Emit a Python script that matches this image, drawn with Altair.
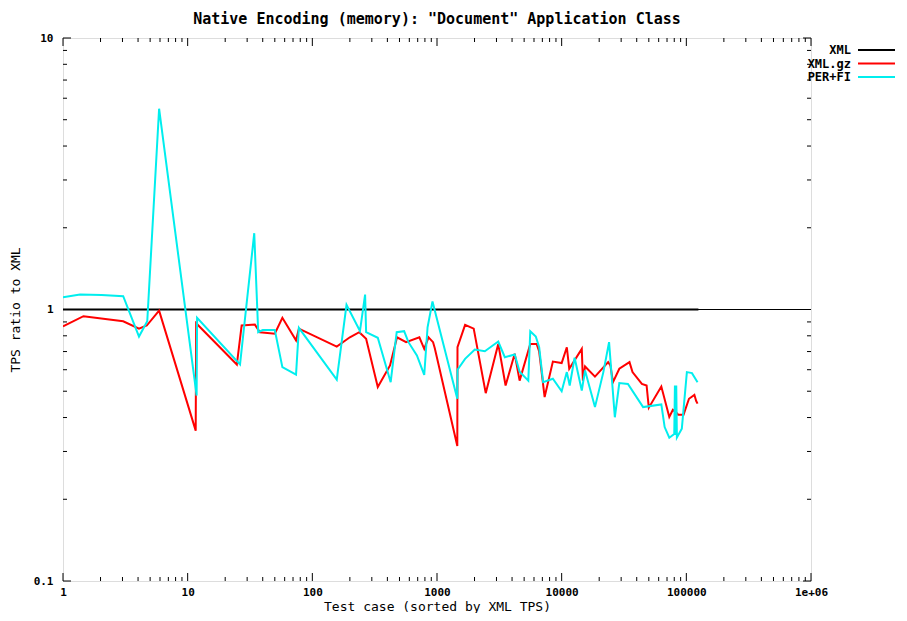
import altair as alt
import pandas as pd

# ---- data ----
xml_x = [1, 125000]
xml_y = [1.0, 1.0]

gz_x = [1, 1.46, 3.04, 4.07, 4.7, 5.9, 11.6, 11.7, 24.8, 27.1, 34.6, 38, 50, 57.5, 74, 78,
        157, 200, 238, 270, 335, 420, 478, 565, 722, 790, 855, 930, 960, 1455, 1460, 1680,
        1970, 2460, 3100, 3550, 4200, 4600, 5600, 6300, 6600, 7300, 8500, 10000, 11000, 11500,
        14500, 14800, 15400, 18500, 23600, 24600, 25800, 29000, 35000, 37000, 44000, 48000,
        50000, 63000, 73000, 78000, 82000, 86000, 95000, 105000, 116000, 120000, 123000]
gz_y = [0.866, 0.945, 0.905, 0.85, 0.873, 0.99, 0.358, 0.89, 0.627, 0.873, 0.88, 0.825, 0.814,
        0.932, 0.77, 0.85, 0.73, 0.79, 0.825, 0.78, 0.518, 0.622, 0.79, 0.758, 0.79, 0.716,
        0.79, 0.758, 0.72, 0.314, 0.726, 0.878, 0.85, 0.492, 0.747, 0.525, 0.687, 0.547, 0.747,
        0.747, 0.7, 0.476, 0.643, 0.635, 0.726, 0.605, 0.716, 0.547, 0.617, 0.566, 0.64, 0.622,
        0.54, 0.605, 0.64, 0.588, 0.532, 0.525, 0.435, 0.52, 0.402, 0.427, 0.42, 0.41, 0.41,
        0.469, 0.485, 0.46, 0.45]

fi_x = [1, 1.37, 2.04, 3.04, 4.07, 4.74, 5.9, 11.8, 11.9, 26.3, 34.2, 36.8, 40, 50, 57.5, 74,
        78, 157, 188, 241, 265, 270, 335, 425, 475, 545, 590, 690, 790, 840, 920, 1455, 1460,
        1680, 2010, 2420, 3100, 3500, 4200, 4600, 5400, 5600, 6200, 6600, 7100, 8500, 10000,
        11000, 11600, 12700, 14500, 15400, 18500, 21600, 24000, 26700, 29000, 34000, 45000,
        63000, 67000, 73000, 80000, 81000, 82000, 83000, 84000, 92000, 101000, 111000, 123000]
fi_y = [1.11, 1.135, 1.13, 1.12, 0.795, 0.905, 5.49, 0.482, 0.932, 0.627, 1.91, 0.825, 0.84,
        0.84, 0.613, 0.576, 0.856, 0.552, 1.04, 0.833, 1.135, 0.825, 0.787, 0.54, 0.825, 0.832,
        0.758, 0.677, 0.574, 0.86, 1.07, 0.469, 0.6, 0.658, 0.712, 0.702, 0.762, 0.667, 0.683,
        0.59, 0.547, 0.832, 0.795, 0.726, 0.54, 0.556, 0.5, 0.588, 0.525, 0.664, 0.503, 0.596,
        0.437, 0.588, 0.758, 0.401, 0.536, 0.532, 0.437, 0.447, 0.369, 0.337, 0.348, 0.525,
        0.345, 0.525, 0.338, 0.364, 0.588, 0.583, 0.54]

series_names = ["XML", "XML.gz", "PER+FI"]
series_colors = ["#000000", "#ff0000", "#00eeee"]

x_major = [1, 10, 100, 1000, 10000, 100000, 1000000]
y_major = [0.1, 1, 10]
x_minor = [m * d for d in [1, 10, 100, 1000, 10000, 100000] for m in range(2, 10)]
y_minor = [m * d for d in [0.1, 1] for m in range(2, 10)]

# ---- build tables ----
rows = []
for name, xs, ys in [("XML", xml_x, xml_y), ("XML.gz", gz_x, gz_y), ("PER+FI", fi_x, fi_y)]:
    for i, (a, b) in enumerate(zip(xs, ys)):
        rows.append({"series": name, "x": a, "y": b, "i": i})
df = pd.DataFrame(rows)

W, H = 748, 543
FONT = "DejaVu Sans Mono"

xscale = alt.Scale(type="log", domain=[1, 1000000])
yscale = alt.Scale(type="log", domain=[0.1, 10])

x_axis = alt.Axis(values=x_major, ticks=False, domain=False, grid=False,
                  labelExpr="datum.value >= 1000000 ? '1e+06' : format(datum.value, '')",
                  labelFont=FONT, labelFontSize=11, labelFontWeight="bold", labelColor="black",
                  labelPadding=5, title="Test case (sorted by XML TPS)", titleFont=FONT,
                  titleFontSize=13, titleFontWeight="normal", titleColor="black",
                  titleX=W / 2, titleY=32, titleBaseline="bottom",
                  labelFlush=False, labelOverlap=False)
y_axis = alt.Axis(values=y_major, ticks=False, domain=False, grid=False,
                  labelExpr="format(datum.value, '')",
                  labelFont=FONT, labelFontSize=11, labelFontWeight="bold", labelColor="black",
                  labelPadding=10, title="TPS ratio to XML", titleFont=FONT, titleFontSize=13,
                  titleFontWeight="normal", titleColor="black",
                  titleX=-48, titleY=H / 2, titleBaseline="middle", titleAngle=270,
                  labelFlush=False, labelOverlap=False)

X = lambda f: alt.X(f, scale=xscale, axis=x_axis)
Y = lambda f: alt.Y(f, scale=yscale, axis=y_axis)

ref = alt.Chart(pd.DataFrame({"y": [1.0]})).mark_rule(color="black", strokeWidth=1).encode(
    y=Y("y:Q"), x=alt.value(0), x2=alt.value(W))

lines = alt.Chart(df).mark_line(strokeWidth=2, clip=True).encode(
    x=X("x:Q"),
    y=Y("y:Q"),
    color=alt.Color("series:N", scale=alt.Scale(domain=series_names, range=series_colors), legend=None),
    order="i:Q",
)

def xticks(vals, length):
    d = pd.DataFrame({"x": vals})
    b = alt.Chart(d).mark_rule(color="black", strokeWidth=1).encode(
        x=X("x:Q"), y=alt.value(H), y2=alt.value(H - length))
    t = alt.Chart(d).mark_rule(color="black", strokeWidth=1).encode(
        x=X("x:Q"), y=alt.value(0), y2=alt.value(length))
    return [b, t]

def yticks(vals, length):
    d = pd.DataFrame({"y": vals})
    l = alt.Chart(d).mark_rule(color="black", strokeWidth=1).encode(
        y=Y("y:Q"), x=alt.value(0), x2=alt.value(length))
    r = alt.Chart(d).mark_rule(color="black", strokeWidth=1).encode(
        y=Y("y:Q"), x=alt.value(W), x2=alt.value(W - length))
    return [l, r]

tick_layers = xticks(x_major, 8) + xticks(x_minor, 4) + yticks(y_major, 8) + yticks(y_minor, 4)

legend_layers = []
for k, (name, col) in enumerate(zip(series_names, series_colors)):
    yy = 12 + k * 13.5
    legend_layers.append(
        alt.Chart(pd.DataFrame({"t": [name]})).mark_text(
            align="right", baseline="middle", font=FONT, fontSize=12, fontWeight="bold",
            color="black").encode(text="t:N", x=alt.value(788), y=alt.value(yy)))
    legend_layers.append(
        alt.Chart(pd.DataFrame({"t": [name]})).mark_rule(color=col, strokeWidth=2).encode(
            x=alt.value(795), x2=alt.value(832), y=alt.value(yy)))

chart = alt.layer(ref, lines, *tick_layers, *legend_layers).properties(
    width=W, height=H,
    title=alt.TitleParams('Native Encoding (memory): "Document" Application Class',
                          font=FONT, fontSize=15, fontWeight="bold", color="black", offset=5),
    autosize=alt.AutoSizeParams(type="none"),
    padding={"left": 55, "top": 30, "right": 84, "bottom": 32},
).configure_view(stroke="black", strokeWidth=1).configure(background="white")

chart.save("out.html", embed_options={"renderer": "svg", "actions": False})
